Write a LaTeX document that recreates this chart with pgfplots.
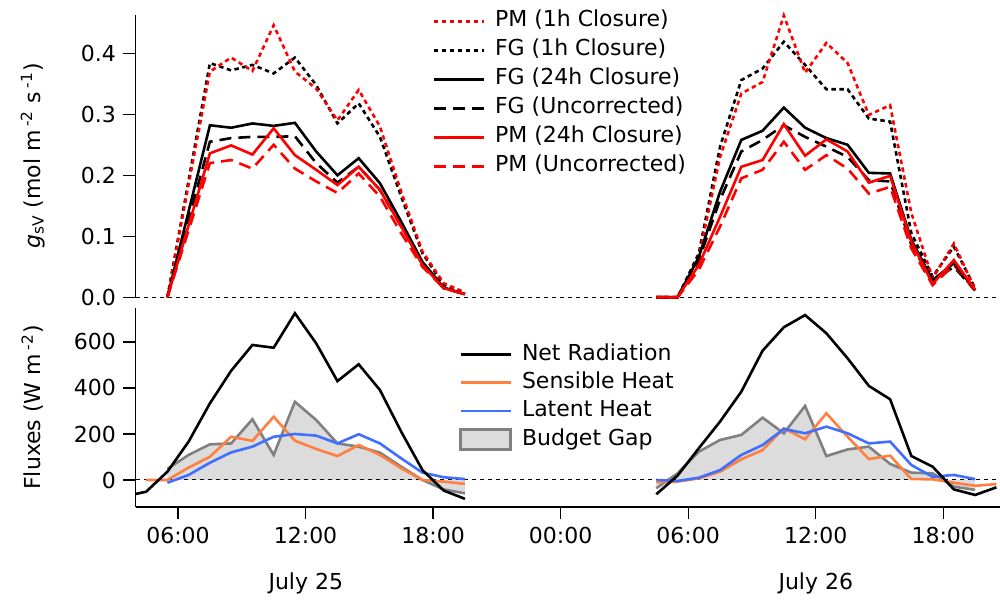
\documentclass[border=0pt]{standalone}
\usepackage{fontspec}
\setmainfont{DejaVu Sans}
\usepackage{pgfplots}
\pgfplotsset{compat=1.18}
\definecolor{pmred}{RGB}{255,0,0}
\definecolor{shorange}{RGB}{255,127,63}
\definecolor{leblue}{RGB}{63,111,255}
\definecolor{gapline}{RGB}{128,128,128}
\definecolor{gapfill}{RGB}{220,220,220}
\pgfplotsset{legend image code/.code={\draw[#1] (0pt,0pt) -- (25pt,0pt);}}
\pgfplotsset{
  common/.style={scale only axis, width=432.25pt, xmin=4, xmax=44.67,
    tick align=outside, major tick length=6pt,
    tick style={black, line width=0.6pt},
    axis line style={black, line width=0.8pt, -},
    /pgf/number format/assume math mode=true,
    unbounded coords=jump,
    legend style={draw=none, fill=none, inner sep=0pt, legend cell align=left,
      nodes={inner xsep=2pt, inner ysep=2pt, text height=8pt, text depth=2.5pt},
      column sep=3pt},
    ylabel style={at={(axis description cs:-0.119,0.5)}, anchor=center},
  },
  gaplegend/.style={legend image code/.code={\draw[##1] (0pt,-5pt) rectangle (25pt,5pt);}},
  solidl/.style={line width=1.3pt},
  dotl/.style={line width=1.3pt, dash pattern=on 2.2pt off 1.8pt},
  dashl/.style={line width=1.3pt, dash pattern=on 6pt off 3.5pt},
  zerol/.style={black, line width=0.5pt, dash pattern=on 2pt off 2pt, forget plot},
}
\begin{document}
\fontsize{11pt}{13pt}\selectfont
\begin{tikzpicture}
\useasboundingbox (0,0) rectangle (500pt,299.5pt);
\begin{axis}[common, at={(67.75pt,150.85pt)}, anchor=south west, height=141.15pt,
  ymin=0, ymax=0.4628, hide x axis, axis y line*=left, clip=false,
  ytick={0,0.1,0.2,0.3,0.4},
  yticklabel style={/pgf/number format/fixed, /pgf/number format/fixed zerofill, /pgf/number format/precision=1},
  ylabel={\textit{g}\textsubscript{sV} (mol m\,\textsuperscript{-2} s\,\textsuperscript{-1})},
  legend style={at={(0.343,1.03)}, anchor=north west}]
\addplot[zerol] coordinates {(4,0) (44.67,0)};
% FG uncorrected
\addplot[black, dashl, forget plot] coordinates {(5.5,0) (7.5,0.255) (8.5,0.261) (9.5,0.263) (10.5,0.263) (11.5,0.264) (12.5,0.220) (13.5,0.188) (14.5,0.214) (15.5,0.176) (16.5,0.116) (17.5,0.056) (18.5,0.015) (19.5,0.005) (24,nan)
 (28.5,0) (29.5,0) (30.5,0.061) (31.5,0.160) (32.5,0.239) (33.5,0.258) (34.5,0.282) (35.5,0.263) (36.5,0.247) (37.5,0.230) (38.5,0.192) (39.5,0.190) (40.5,0.086) (41.5,0.026) (42.5,0.050) (43.5,0.011)};
% PM uncorrected
\addplot[pmred, dashl, forget plot] coordinates {(5.5,0) (7.5,0.220) (8.5,0.225) (9.5,0.211) (10.5,0.250) (11.5,0.211) (12.5,0.190) (13.5,0.171) (14.5,0.203) (15.5,0.165) (16.5,0.105) (17.5,0.050) (18.5,0.015) (19.5,0.005) (24,nan)
 (28.5,0) (29.5,0) (30.5,0.045) (31.5,0.116) (32.5,0.195) (33.5,0.209) (34.5,0.255) (35.5,0.209) (36.5,0.233) (37.5,0.211) (38.5,0.170) (39.5,0.181) (40.5,0.080) (41.5,0.020) (42.5,0.053) (43.5,0.011)};
% FG 1h
\addplot[black, dotl, forget plot] coordinates {(5.5,0) (7.5,0.384) (8.5,0.372) (9.5,0.381) (10.5,0.367) (11.5,0.393) (12.5,0.348) (13.5,0.285) (14.5,0.318) (15.5,0.263) (16.5,0.165) (17.5,0.072) (18.5,0.020) (19.5,0.006) (24,nan)
 (28.5,0) (29.5,0) (30.5,0.072) (31.5,0.247) (32.5,0.356) (33.5,0.375) (34.5,0.419) (35.5,0.381) (36.5,0.341) (37.5,0.341) (38.5,0.293) (39.5,0.288) (40.5,0.105) (41.5,0.034) (42.5,0.083) (43.5,0.015)};
% PM 1h
\addplot[pmred, dotl, forget plot] coordinates {(5.5,0) (7.5,0.370) (8.5,0.393) (9.5,0.371) (10.5,0.446) (11.5,0.370) (12.5,0.342) (13.5,0.290) (14.5,0.340) (15.5,0.280) (16.5,0.173) (17.5,0.075) (18.5,0.023) (19.5,0.008) (24,nan)
 (28.5,0) (29.5,0) (30.5,0.066) (31.5,0.230) (32.5,0.334) (33.5,0.353) (34.5,0.462) (35.5,0.368) (36.5,0.417) (37.5,0.384) (38.5,0.299) (39.5,0.315) (40.5,0.138) (41.5,0.031) (42.5,0.088) (43.5,0.013)};
% FG 24h
\addplot[black, solidl, forget plot] coordinates {(5.5,0) (7.5,0.282) (8.5,0.278) (9.5,0.285) (10.5,0.281) (11.5,0.286) (12.5,0.239) (13.5,0.200) (14.5,0.228) (15.5,0.187) (16.5,0.124) (17.5,0.058) (18.5,0.016) (19.5,0.005) (24,nan)
 (28.5,0) (29.5,0) (30.5,0.066) (31.5,0.173) (32.5,0.258) (33.5,0.273) (34.5,0.311) (35.5,0.278) (36.5,0.261) (37.5,0.250) (38.5,0.204) (39.5,0.203) (40.5,0.094) (41.5,0.028) (42.5,0.056) (43.5,0.012)};
% PM 24h
\addplot[pmred, solidl, forget plot] coordinates {(5.5,0) (7.5,0.236) (8.5,0.249) (9.5,0.234) (10.5,0.277) (11.5,0.233) (12.5,0.209) (13.5,0.184) (14.5,0.214) (15.5,0.176) (16.5,0.116) (17.5,0.053) (18.5,0.015) (19.5,0.005) (24,nan)
 (28.5,0) (29.5,0) (30.5,0.053) (31.5,0.132) (32.5,0.214) (33.5,0.225) (34.5,0.284) (35.5,0.232) (36.5,0.259) (37.5,0.239) (38.5,0.188) (39.5,0.199) (40.5,0.091) (41.5,0.022) (42.5,0.061) (43.5,0.012)};
\addlegendimage{pmred, dotl}\addlegendentry{PM (1h Closure)}
\addlegendimage{black, dotl}\addlegendentry{FG (1h Closure)}
\addlegendimage{black, solidl}\addlegendentry{FG (24h Closure)}
\addlegendimage{black, dashl}\addlegendentry{FG (Uncorrected)}
\addlegendimage{pmred, solidl}\addlegendentry{PM (24h Closure)}
\addlegendimage{pmred, dashl}\addlegendentry{PM (Uncorrected)}
\end{axis}
\begin{axis}[common, at={(67.75pt,46pt)}, anchor=south west, height=99.5pt,
  ymin=-117.4, ymax=747.8, axis x line*=bottom, axis y line*=left,
  xtick={6,12,18,24,30,36,42},
  xticklabels={06:00,12:00,18:00,00:00,06:00,12:00,18:00},
  ytick={0,200,400,600},
  ylabel={Fluxes (W m\,\textsuperscript{-2})},
  legend style={at={(0.3742,0.84)}, anchor=north west, nodes={text depth=2.15pt}}]
% Budget gap fill
\addplot[fill=gapfill, draw=none, forget plot] coordinates {(5.5,48) (6.5,109) (7.5,155) (8.5,159) (9.5,264) (10.5,109) (11.5,340) (12.5,261) (13.5,159) (14.5,145) (15.5,119) (16.5,58) (17.5,0) (18.5,-41) (19.5,-58)} \closedcycle;
\addplot[fill=gapfill, draw=none, forget plot] coordinates {(28.5,-36) (29.5,29) (30.5,123) (31.5,174) (32.5,196) (33.5,271) (34.5,203) (35.5,322) (36.5,104) (37.5,133) (38.5,145) (39.5,70) (40.5,32) (41.5,29) (42.5,-29) (43.5,-43)} \closedcycle;
\addplot[zerol] coordinates {(4,0) (44.67,0)};
\addplot[gapline, solidl, forget plot] coordinates {(5.5,48) (6.5,109) (7.5,155) (8.5,159) (9.5,264) (10.5,109) (11.5,340) (12.5,261) (13.5,159) (14.5,145) (15.5,119) (16.5,58) (17.5,0) (18.5,-41) (19.5,-58) (24,nan)
 (28.5,-36) (29.5,29) (30.5,123) (31.5,174) (32.5,196) (33.5,271) (34.5,203) (35.5,322) (36.5,104) (37.5,133) (38.5,145) (39.5,70) (40.5,32) (41.5,29) (42.5,-29) (43.5,-43)};
% Sensible heat
\addplot[shorange, solidl, forget plot] coordinates {(4.5,0) (5.5,0) (6.5,54) (7.5,101) (8.5,188) (9.5,170) (10.5,275) (11.5,171) (12.5,135) (13.5,104) (14.5,152) (15.5,109) (16.5,51) (17.5,0) (18.5,-7) (19.5,-17) (24,nan)
 (28.5,-10) (29.5,-7) (30.5,7) (31.5,36) (32.5,90) (33.5,130) (34.5,225) (35.5,177) (36.5,290) (37.5,188) (38.5,91) (39.5,106) (40.5,4) (41.5,3) (42.5,-12) (43.5,-25) (44.5,-18)};
% Latent heat
\addplot[leblue, solidl, forget plot] coordinates {(5.5,-12) (6.5,22) (7.5,75) (8.5,120) (9.5,145) (10.5,188) (11.5,200) (12.5,193) (13.5,159) (14.5,199) (15.5,159) (16.5,94) (17.5,32) (18.5,12) (19.5,4) (24,nan)
 (28.5,0) (29.5,-4) (30.5,10) (31.5,43) (32.5,109) (33.5,152) (34.5,222) (35.5,203) (36.5,232) (37.5,203) (38.5,159) (39.5,167) (40.5,65) (41.5,14) (42.5,22) (43.5,4)};
% Net radiation
\addplot[black, solidl, forget plot] coordinates {(3.5,-71) (4.5,-51) (5.5,36) (6.5,167) (7.5,333) (8.5,475) (9.5,587) (10.5,575) (11.5,725) (12.5,594) (13.5,430) (14.5,503) (15.5,391) (16.5,210) (17.5,43) (18.5,-46) (19.5,-82) (24,nan)
 (28.5,-62) (29.5,19) (30.5,138) (31.5,254) (32.5,384) (33.5,562) (34.5,664) (35.5,717) (36.5,638) (37.5,529) (38.5,409) (39.5,351) (40.5,104) (41.5,58) (42.5,-41) (43.5,-65) (44.5,-32)};
\addlegendimage{black, solidl}\addlegendentry{Net Radiation}
\addlegendimage{shorange, solidl}\addlegendentry{Sensible Heat}
\addlegendimage{leblue, solidl}\addlegendentry{Latent Heat}
\addlegendimage{gaplegend, fill=gapfill, draw=gapline, line width=1.3pt}\addlegendentry{Budget Gap}
\end{axis}
\node at (152.9pt,8pt) {July 25};
\node at (407.9pt,8pt) {July 26};
\end{tikzpicture}
\end{document}
